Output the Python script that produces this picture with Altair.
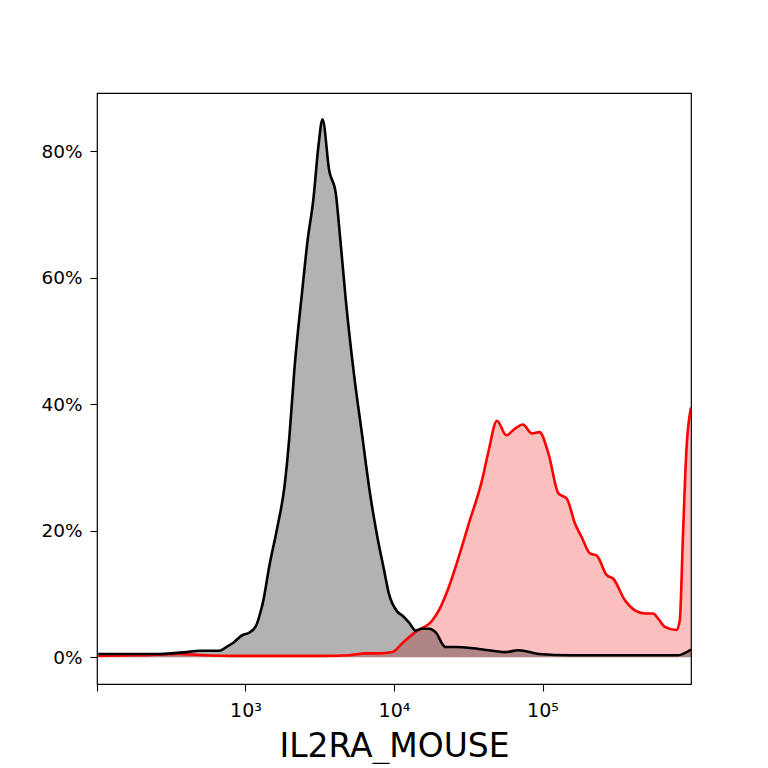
import altair as alt
import pandas as pd

# Control (black) histogram: intensity values and percent of max
black_x = [102, 166, 265, 400, 491, 669, 742, 818, 955, 1064, 1180, 1274, 1306,
           1449, 1640, 1828, 1974, 2132, 2423, 2618, 2860, 3103, 3302, 3661,
           4060, 4276, 4740, 5393, 6129, 6795, 7727, 8570, 9250, 10520, 11370,
           12610, 13990, 15420, 17180, 19440, 21000, 22250, 25960, 37190,
           56200, 69060, 94000, 156500, 290600, 489000, 818000, 1000000]
black_y = [0.5, 0.5, 0.5, 0.8, 1.0, 1.0, 1.6, 2.2, 3.5, 3.9, 5.0, 7.5, 8.5,
           14.5, 20.6, 26.9, 34.8, 45.4, 58.5, 65.9, 72.3, 81.0, 85.1, 77.0,
           73.3, 68.0, 56.4, 44.5, 34.8, 26.9, 19.0, 13.8, 10.0, 7.2, 6.6,
           5.5, 4.2, 4.5, 4.5, 3.7, 2.2, 1.6, 1.6, 1.3,
           0.8, 1.1, 0.5, 0.3, 0.3, 0.3, 0.3, 1.2]

# Stained (red) histogram
red_x = [102, 194, 360, 491, 912, 1690, 3480, 4990, 6460, 7930, 9740, 11370,
         13990, 18090, 20050, 23400, 27320, 31860, 39170, 43420, 49350, 57070,
         65600, 73800, 84800, 95500, 109700, 128000, 145500, 165700, 183500,
         208800, 231300, 270000, 299700, 359000, 419000, 489000, 556000,
         601000, 666000, 797000, 840000, 884000, 931000, 1000000]
red_y = [0.2, 0.3, 0.5, 0.35, 0.2, 0.2, 0.2, 0.3, 0.6, 0.6, 0.8, 2.2,
         4.0, 5.8, 7.4, 11.1, 15.9, 21.1, 28.0, 32.7, 37.4, 35.1,
         36.2, 36.8, 35.4, 35.6, 32.2, 25.9, 25.1, 21.1, 19.0,
         16.4, 16.1, 13.0, 12.4, 9.0, 7.4, 6.9, 6.9,
         6.1, 4.8, 4.3, 5.8, 19.6, 32.7, 39.5]

x_tick_values = [100, 1000, 10000, 100000]
x_tick_labels = ["", "10³", "10⁴", "10⁵"]
y_tick_values = [0, 20, 40, 60, 80]
x_title = "IL2RA_MOUSE"

df = pd.concat([
    pd.DataFrame({"x": black_x, "y": black_y, "s": "control"}),
    pd.DataFrame({"x": red_x, "y": red_y, "s": "stained"}),
])

label_expr = " : ".join(
    f"datum.value == {v} ? '{l}'" for v, l in zip(x_tick_values, x_tick_labels)
) + " : ''"

FONT = "DejaVu Sans"
xs = alt.Scale(type="log", domain=[100, 1000000], nice=False)
ys = alt.Scale(domain=[-4.25, 89.25], nice=False, zero=False)

xenc = alt.X("x:Q", scale=xs, axis=alt.Axis(
    values=x_tick_values, labelExpr=label_expr, title=x_title, grid=False,
    domain=False, tickColor="black", tickWidth=1.1, tickSize=7,
    labelFontSize=19, labelFont=FONT, labelColor="black", labelPadding=10,
    labelFlush=False,
    titleFont=FONT, titleFontSize=33, titleFontWeight="normal",
    titleColor="black", titleBaseline="alphabetic", titleY=72))
yenc = alt.Y("y:Q", scale=ys, axis=alt.Axis(
    values=y_tick_values, labelExpr="datum.value + '%'", title=None,
    grid=False, domain=False, tickColor="black", tickWidth=1.1, tickSize=7,
    labelFontSize=18.5, labelFont=FONT, labelColor="black", labelPadding=8))

base = alt.Chart(df)

red_area = base.transform_filter(alt.datum.s == "stained").mark_area(
    color="#f00000", opacity=0.25, interpolate="monotone", clip=True
).encode(x=xenc, y=yenc, y2=alt.datum(0))
black_area = base.transform_filter(alt.datum.s == "control").mark_area(
    color="#000000", opacity=0.3, interpolate="monotone", clip=True
).encode(x=xenc, y=yenc, y2=alt.datum(0))
red_line = base.transform_filter(alt.datum.s == "stained").mark_line(
    color="#ff0000", strokeWidth=2.6, interpolate="monotone", clip=True
).encode(x=xenc, y=yenc)
black_line = base.transform_filter(alt.datum.s == "control").mark_line(
    color="#000000", strokeWidth=2.6, interpolate="monotone", clip=True
).encode(x=xenc, y=yenc)

chart = alt.layer(red_area, black_area, red_line, black_line).properties(
    width=594, height=591,
    autosize=alt.AutoSizeParams(type="none"),
    padding={"left": 89, "top": 85, "right": 60, "bottom": 80},
    background="white",
).configure_view(stroke="black", strokeWidth=1.2)

chart.save("out.html", embed_options={"renderer": "svg", "actions": False})
